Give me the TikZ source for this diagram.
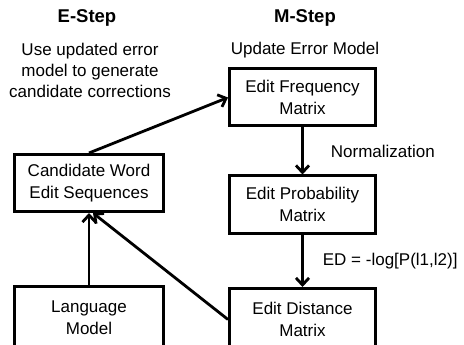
\documentclass[tikz,border=0pt]{standalone}
\usepackage{fontspec}
\setmainfont{Liberation Sans}
\usetikzlibrary{arrows.meta}

\tikzset{
  box/.style={draw, line width=3pt, minimum width=146pt, minimum height=57pt,
    align=center, inner sep=0pt, font=\fontsize{17}{22}\selectfont},
  txt/.style={align=center, inner sep=0pt, font=\fontsize{17}{21}\selectfont},
  head/.style={inner sep=0pt, font=\fontsize{18.5}{22}\selectfont\bfseries},
  flow/.style={line width=2.8pt, -{Straight Barb[length=7pt,width=13pt,line width=2.8pt]}}
}

\begin{document}
\begin{tikzpicture}[x=1pt,y=-1pt]
  \useasboundingbox (0,0) rectangle (464,345);
  % column titles
  \node[head] (estep) at (87,18) {E-Step};
  \node[head] (mstep) at (305,18) {M-Step};
  \node[txt] (edesc) at (90,70) {Use updated error\\model to generate\\candidate corrections};
  \node[txt] (mdesc) at (305,50) {Update Error Model};
  % boxes
  \node[box] (freq) at (302.5,97.5) {Edit Frequency\\Matrix};
  \node[box] (prob) at (302.5,204.5) {Edit Probability\\Matrix};
  \node[box, minimum height=62pt] (dist) at (302.5,319.5) {Edit Distance\\Matrix};
  \node[box, minimum width=149pt] (cand) at (89,183) {Candidate Word\\Edit Sequences};
  \node[box, minimum width=149pt, minimum height=62pt] (lm) at (89,317.5) {Language\\Model};
  % arrows
  \draw[flow] (freq) -- node[txt, anchor=west, xshift=27pt] (norm) {Normalization} (prob);
  \draw[flow] (prob) -- node[txt, anchor=west, xshift=19pt] (edf) {ED = -log[P(l1,l2)]} (dist);
  \draw[flow] (cand.north) -- (freq.west);
  \draw[flow] (lm.north) -- (cand.south);
  \draw[flow] (dist.west) -- ([xshift=4pt]cand.south);
\end{tikzpicture}
\end{document}
